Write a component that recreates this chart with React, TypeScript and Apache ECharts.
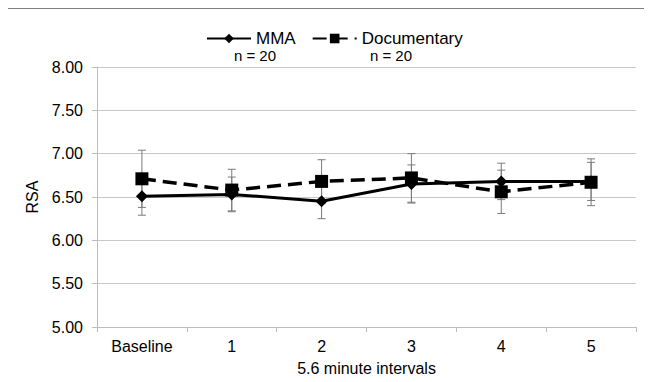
import React, { useEffect, useRef } from "react";
import * as echarts from "echarts";

const categories = ["Baseline", "1", "2", "3", "4", "5"];
const mmaValues = [6.51, 6.53, 6.45, 6.65, 6.68, 6.68];
const mmaErrors = [0.22, 0.2, 0.2, 0.22, 0.21, 0.22];
const docValues = [6.71, 6.58, 6.68, 6.72, 6.56, 6.67];
const docErrors = [0.33, 0.24, 0.25, 0.28, 0.25, 0.27];
const yTicks = [5, 5.5, 6, 6.5, 7, 7.5, 8];

const FONT = "Liberation Sans, Arial, sans-serif";

function errorData(vals: number[], errs: number[]) {
  return vals.map((v, i) => [i, v - errs[i], v + errs[i]]);
}

const renderErr = (params: any, api: any) => {
  const lo = api.coord([api.value(0), api.value(1)]);
  const hi = api.coord([api.value(0), api.value(2)]);
  const w = 4;
  const st = { stroke: "#7a7a7a", lineWidth: 1 };
  return {
    type: "group",
    children: [
      { type: "line", shape: { x1: hi[0], y1: hi[1], x2: lo[0], y2: lo[1] }, style: st },
      { type: "line", shape: { x1: hi[0] - w, y1: hi[1], x2: hi[0] + w, y2: hi[1] }, style: st },
      { type: "line", shape: { x1: lo[0] - w, y1: lo[1], x2: lo[0] + w, y2: lo[1] }, style: st },
    ],
  };
};

export default function App() {
  const ref = useRef<HTMLDivElement>(null);
  useEffect(() => {
    if (!ref.current) return;
    const chart = echarts.init(ref.current, undefined, { renderer: "svg" });
    chart.setOption({
      animation: false,
      backgroundColor: "#ffffff",
      textStyle: { fontFamily: FONT },
      grid: { left: 97, right: 16, top: 67, bottom: 55 },
      legend: {
        left: 201,
        top: 25,
        itemWidth: 44,
        itemHeight: 12,
        itemGap: 16,
        textStyle: { fontSize: 17, color: "#000", fontFamily: FONT },
        data: ["MMA", "Documentary"],
      },
      graphic: [
        {
          type: "rect",
          shape: { x: 7, y: 8, width: 700, height: 420 },
          style: { fill: "none", stroke: "#555", lineWidth: 1.5 },
          silent: true,
        },
        {
          type: "text",
          x: 255,
          y: 55,
          style: { text: "n = 20", fill: "#000", font: "15px " + FONT, align: "center", verticalAlign: "middle" },
        },
        {
          type: "text",
          x: 391,
          y: 55,
          style: { text: "n = 20", fill: "#000", font: "15px " + FONT, align: "center", verticalAlign: "middle" },
        },
      ],
      xAxis: {
        type: "category",
        data: categories,
        boundaryGap: true,
        name: "5.6 minute intervals",
        nameLocation: "middle",
        nameGap: 33,
        nameTextStyle: { fontSize: 16, color: "#000", fontFamily: FONT },
        axisLine: { lineStyle: { color: "#bdbdbd", width: 1 } },
        axisTick: { show: true, length: 5, lineStyle: { color: "#bdbdbd" } },
        axisLabel: { fontSize: 16, color: "#000", margin: 11, fontFamily: FONT },
      },
      yAxis: {
        type: "value",
        min: 5,
        max: 8,
        interval: 0.5,
        name: "RSA",
        nameLocation: "middle",
        nameGap: 56,
        nameTextStyle: { fontSize: 16, color: "#000", fontFamily: FONT },
        axisLine: { show: true, lineStyle: { color: "#bdbdbd", width: 1 } },
        axisTick: { show: true, length: 5, lineStyle: { color: "#bdbdbd" } },
        axisLabel: {
          fontSize: 16,
          color: "#000",
          margin: 14,
          fontFamily: FONT,
          formatter: (v: number) => (yTicks.includes(v) ? v.toFixed(2) : ""),
        },
        splitLine: { show: true, lineStyle: { color: "#c8c8c8", width: 1 } },
      },
      series: [
        {
          type: "custom",
          name: "mmaErr",
          renderItem: renderErr,
          data: errorData(mmaValues, mmaErrors),
          z: 1,
          silent: true,
        },
        {
          type: "custom",
          name: "docErr",
          renderItem: renderErr,
          data: errorData(docValues, docErrors),
          z: 1,
          silent: true,
        },
        {
          type: "line",
          name: "MMA",
          data: mmaValues,
          symbol: "diamond",
          symbolSize: 12,
          itemStyle: { color: "#000" },
          lineStyle: { color: "#000", width: 3 },
          z: 3,
        },
        {
          type: "line",
          name: "Documentary",
          data: docValues,
          symbol: "rect",
          symbolSize: 13,
          itemStyle: { color: "#000" },
          lineStyle: { color: "#000", width: 3.5, type: [14, 7] },
          z: 4,
        },
      ],
    });
    return () => chart.dispose();
  }, []);
  return <div ref={ref} style={{ width: 652, height: 382, margin: -8 }} />;
}
